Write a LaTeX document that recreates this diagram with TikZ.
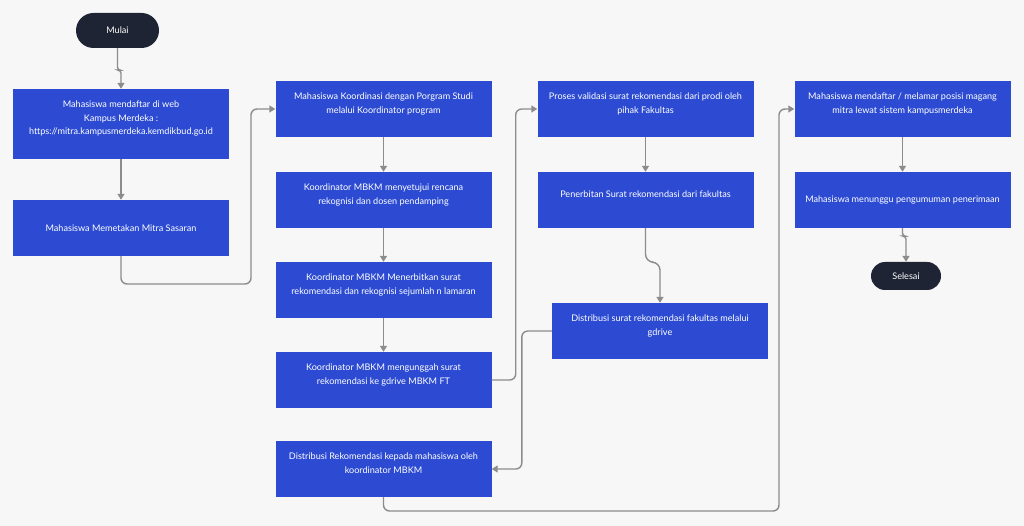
\documentclass[tikz,border=0pt]{standalone}
\usepackage{fontspec}
\setmainfont{Lato}
\usetikzlibrary{positioning}
\usetikzlibrary{arrows.meta}
\definecolor{boxblue}{HTML}{2C4BD2}
\definecolor{termnavy}{HTML}{1E2433}
\definecolor{linegray}{HTML}{8C8C8C}
\definecolor{bggray}{HTML}{F7F7F7}

\begin{document}
\begin{tikzpicture}[x=1pt, y=-1pt,
  stepbox/.style={fill=boxblue, text=white, minimum width=216pt, minimum height=56pt,
    align=center, inner sep=2pt, font=\fontsize{9.1}{13.5}\selectfont},
  lift/.style={text depth=12pt},
  terminal/.style={fill=termnavy, text=white, rounded corners=14pt,
    font=\fontsize{9.1}{10}\selectfont},
  flow/.style={draw=linegray, line width=1.4pt, rounded corners=6pt,
    -{Triangle[width=7pt,length=6pt]}}]

% Background
\fill[bggray] (0,0) rectangle (1024,526);
\useasboundingbox (0,0) rectangle (1024,526);

% Column 1
\node[terminal, minimum width=83pt, minimum height=35pt, rounded corners=17.5pt] (mulai) at (117.5,30.5) {Mulai};
\node[stepbox, lift, minimum height=70pt] (daftar) at (121,124) {Mahasiswa mendaftar di web\\Kampus Merdeka :\\https://mitra.kampusmerdeka.kemdikbud.go.id};
\node[stepbox] (petakan) at (121,228) {Mahasiswa Memetakan Mitra Sasaran};

% Column 2
\node[stepbox, lift] (koordinasi) at (383.5,109) {Mahasiswa Koordinasi dengan Porgram Studi\\melalui Koordinator program};
\node[stepbox, lift] (setuju) at (383.5,200) {Koordinator MBKM menyetujui rencana\\rekognisi dan dosen pendamping};
\node[stepbox, lift] (terbit) at (383.5,290) {Koordinator MBKM Menerbitkan surat\\rekomendasi dan rekognisi sejumlah n lamaran};
\node[stepbox, lift] (unggah) at (383.5,380) {Koordinator MBKM mengunggah surat\\rekomendasi ke gdrive MBKM FT};
\node[stepbox, lift] (distmhs) at (383.5,469) {Distribusi Rekomendasi kepada mahasiswa oleh\\koordinator MBKM};

% Column 3
\node[stepbox, lift] (validasi) at (645.5,109) {Proses validasi surat rekomendasi dari prodi oleh\\pihak Fakultas};
\node[stepbox, lift] (terbitfak) at (645.5,200) {Penerbitan Surat rekomendasi dari fakultas};
\node[stepbox, lift] (distfak) at (660,331) {Distribusi surat rekomendasi fakultas melalui\\gdrive};

% Column 4
\node[stepbox, lift] (melamar) at (902.5,109) {Mahasiswa mendaftar / melamar posisi magang\\mitra lewat sistem kampusmerdeka};
\node[stepbox] (tunggu) at (902.5,200) {Mahasiswa menunggu pengumuman penerimaan};
\node[terminal, minimum width=70pt, minimum height=28pt] (selesai) at (906,276) {Selesai};

\coordinate (turn1) at (251,284);
\coordinate (turn2) at (779,511);

% Connectors
\draw[flow, rounded corners=3pt] (mulai.south) -- ++(0,22) -| (daftar.north);
\draw[flow] (daftar.south) -- (petakan.north);
\draw[flow] (petakan.south) |- (turn1) |- (koordinasi.west);
\draw[flow] (koordinasi.south) -- (setuju.north);
\draw[flow] (setuju.south) -- (terbit.north);
\draw[flow] (terbit.south) -- (unggah.north);
\draw[flow] (unggah.east) -- ++(24,0) |- (validasi.west);
\draw[flow] (validasi.south) -- (terbitfak.north);
\draw[flow, rounded corners=8pt] (terbitfak.south) -- ++(0,34) -| (distfak.north);
\draw[flow] (distfak.west) -- ++(-30,0) |- (distmhs.east);
\draw[flow] (distmhs.south) |- (turn2) |- (melamar.west);
\draw[flow] (melamar.south) -- (tunggu.north);
\draw[flow, rounded corners=3pt] (tunggu.south) -- ++(0,8) -| (selesai.north);

\end{tikzpicture}
\end{document}
